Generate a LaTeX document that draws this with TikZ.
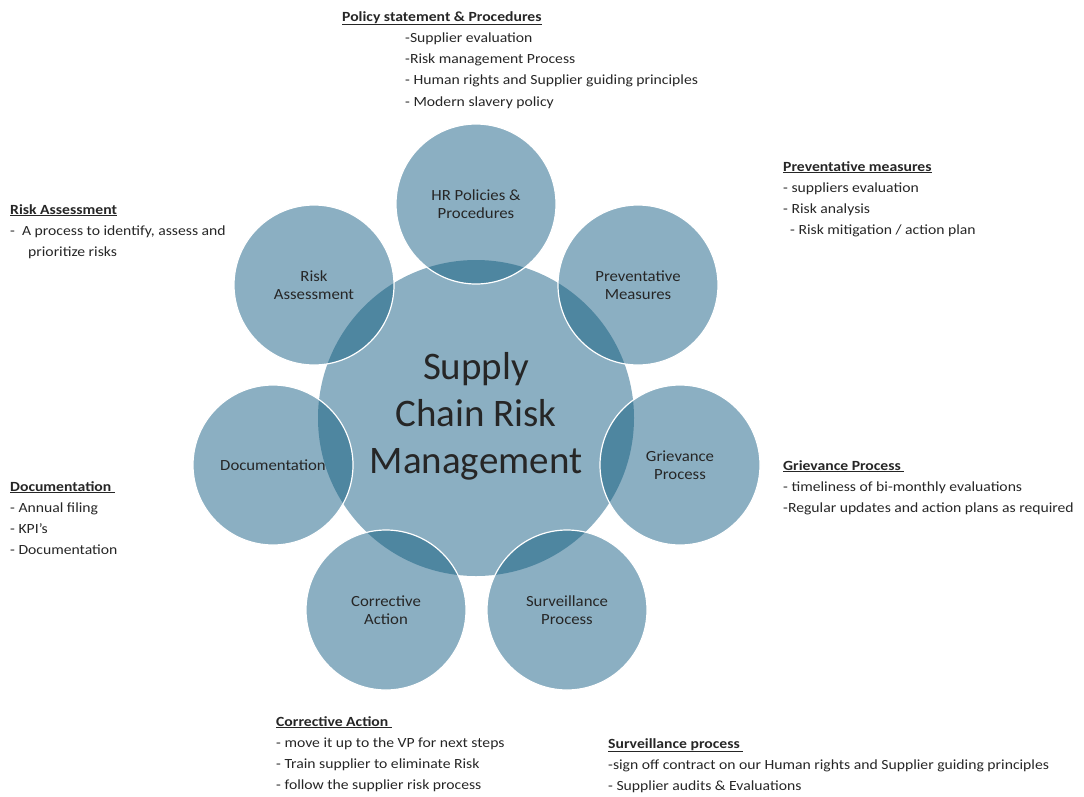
\documentclass[tikz,border=0pt]{standalone}
\usepackage{fontspec}
\setmainfont{Carlito}
\newfontfamily\notefont[FakeStretch=1.12]{Carlito}
\newfontfamily\satfont[FakeStretch=1.08]{Carlito}
\definecolor{lightblue}{HTML}{8BAFC2}
\definecolor{darkblue}{HTML}{4E86A0}
\definecolor{txt}{HTML}{262626}
\begin{document}
\begin{tikzpicture}[x=1pt,y=-1pt,
  sat/.style={circle, minimum size=160pt, inner sep=0pt, draw=white, line width=1.2pt,
    align=center, text=txt, font=\satfont\fontsize{15.5}{18.5}\selectfont},
  note/.style={anchor=base west, align=left, inner sep=0pt, text=txt,
    font=\notefont\fontsize{14}{21.3}\selectfont}]
\newcommand{\hd}[1]{\textbf{\underline{#1}}}
\useasboundingbox (0,0) rectangle (1084,796);
% base fills
\fill[lightblue] (476,418) circle[radius=158pt];
\foreach \p in {(476,204),(638,285),(680,465),(567,610),(386,610),(273,465),(314,285)}{
  \fill[lightblue] \p circle[radius=80pt];
  \begin{scope}
    \clip (476,418) circle[radius=158pt];
    \fill[darkblue] \p circle[radius=80pt];
  \end{scope}
}
% center
\node[align=center, text=txt, font=\fontsize{39}{47}\selectfont] (scrm) at (476,416) {Supply\\Chain Risk\\Management};
% satellites
\node[sat] (hr) at (476,204) {HR Policies \&\\Procedures};
\node[sat] (pm) at (638,285) {Preventative\\Measures};
\node[sat] (gp) at (680,465) {Grievance\\Process};
\node[sat] (sp) at (567,610) {Surveillance\\Process};
\node[sat] (ca) at (386,610) {Corrective\\Action};
\node[sat] (doc) at (273,465) {Documentation};
\node[sat] (ra) at (314,285) {Risk\\Assessment};
% notes (anchor = baseline of last line)
\node[note] (polh) at (342,21) {\hd{Policy statement \& Procedures}};
\node[note] (poll) at (405,106.2) {-Supplier evaluation\\-Risk management Process\\- Human rights and Supplier guiding principles\\- Modern slavery policy};
\node[note] (pmn) at (783,234.9) {\hd{Preventative measures}\\- suppliers evaluation\\- Risk analysis\\\hspace*{7pt}- Risk mitigation / action plan};
\node[note] (ran) at (10,256.6) {\hd{Risk Assessment}\\-\ \ A process to identify, assess and\\\hspace*{18pt}prioritize risks};
\node[note] (gpn) at (783,512.6) {\hd{Grievance Process\ }\\- timeliness of bi-monthly evaluations\\-Regular updates and action plans as required};
\node[note] (docn) at (10,554.9) {\hd{Documentation\ }\\- Annual filing\\- KPI’s\\- Documentation};
\node[note] (can) at (276,789.9) {\hd{Corrective Action\ }\\- move it up to the VP for next steps\\- Train supplier to eliminate Risk\\- follow the supplier risk process};
\node[note] (spn) at (608,790.6) {\hd{Surveillance process\ }\\-sign off contract on our Human rights and Supplier guiding principles\\- Supplier audits \& Evaluations};
\end{tikzpicture}
\end{document}
